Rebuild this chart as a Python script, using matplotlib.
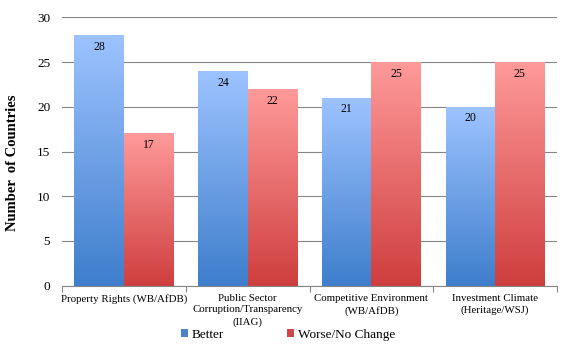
import numpy as np
import matplotlib
matplotlib.use("Agg")
import matplotlib.pyplot as plt
from matplotlib.colors import LinearSegmentedColormap
from matplotlib.patches import Patch

categories = ["Property Rights (WB/AfDB)",
              "Public Sector\nCorruption/Transparency\n(IIAG)",
              "Competitive Environment\n(WB/AfDB)",
              "Investment Climate\n(Heritage/WSJ)"]
better = [28, 24, 21, 20]
worse = [17, 22, 25, 25]
series_names = ["Better", "Worse/No Change"]
yticks = [0, 5, 10, 15, 20, 25, 30]

plt.rcParams['font.family'] = ['Liberation Serif', 'DejaVu Serif']

fig = plt.figure(figsize=(5.76, 3.51), dpi=100)
ax = fig.add_axes([62/576, 1-285.7/351, (557-62)/576, (285.7-17.3)/351])

x = np.arange(len(categories))
w = 0.4
blue_cmap = LinearSegmentedColormap.from_list("b", ["#3E7ECC", "#9DC3FF"])
red_cmap = LinearSegmentedColormap.from_list("r", ["#CF3E3E", "#FF9A9A"])
grad = np.linspace(0, 1, 256).reshape(-1, 1)

def grad_bars(xs, vals, cmap):
    bars = ax.bar(xs, vals, width=w, color="none", edgecolor="none", zorder=3)
    for b, v in zip(bars, vals):
        x0, y0 = b.get_x(), b.get_y()
        ax.imshow(grad, cmap=cmap, origin="lower", aspect="auto",
                  interpolation="bilinear",
                  extent=[x0, x0 + b.get_width(), y0, y0 + b.get_height()],
                  zorder=3)
        ax.text(x0 + b.get_width()/2, v - 1.3, str(v), ha="center", va="center",
                fontsize=8.5, color="black", zorder=5)
    return bars

grad_bars(x - w/2, better, blue_cmap)
grad_bars(x + w/2, worse, red_cmap)

ax.set_xlim(-0.5, len(categories) - 0.5)
ax.set_ylim(0, 30)
ax.set_yticks(yticks)
ax.set_axisbelow(True)
ax.yaxis.grid(True, color="#868686", linewidth=0.8)
for gl in ax.get_ygridlines():
    gl.set_zorder(0.5)
ax.tick_params(axis="y", length=0, labelsize=9.5, pad=8.5)
ax.set_xticks(x)
ax.set_xticklabels(categories, fontsize=7.8, linespacing=1.35)
ax.set_xticks(np.arange(-0.5, len(categories)), minor=True)
ax.tick_params(axis="x", which="major", length=0, pad=6)
ax.tick_params(axis="x", which="minor", length=4, color="#868686", width=0.8)
for s in ["left", "right", "top"]:
    ax.spines[s].set_visible(False)
ax.spines["bottom"].set_color("#868686")
ax.spines["bottom"].set_linewidth(0.8)
ax.spines["bottom"].set_zorder(4)

ax.set_ylabel("Number  of Countries", fontsize=10.5, fontweight="bold")
ax.yaxis.set_label_coords((19 - 62) / 495, (285.7 - 162.5) / 268.4)

handles = [Patch(facecolor="#4A80CC", edgecolor="none"),
           Patch(facecolor="#D04646", edgecolor="none")]
fig.legend(handles, series_names, loc="center", bbox_to_anchor=(0.5, 1-335/351),
           ncol=2, frameon=False, fontsize=9.5, handlelength=0.55, handleheight=0.55,
           handletextpad=0.3, columnspacing=4.75, borderpad=0)

fig.savefig("out.png", dpi=100)
